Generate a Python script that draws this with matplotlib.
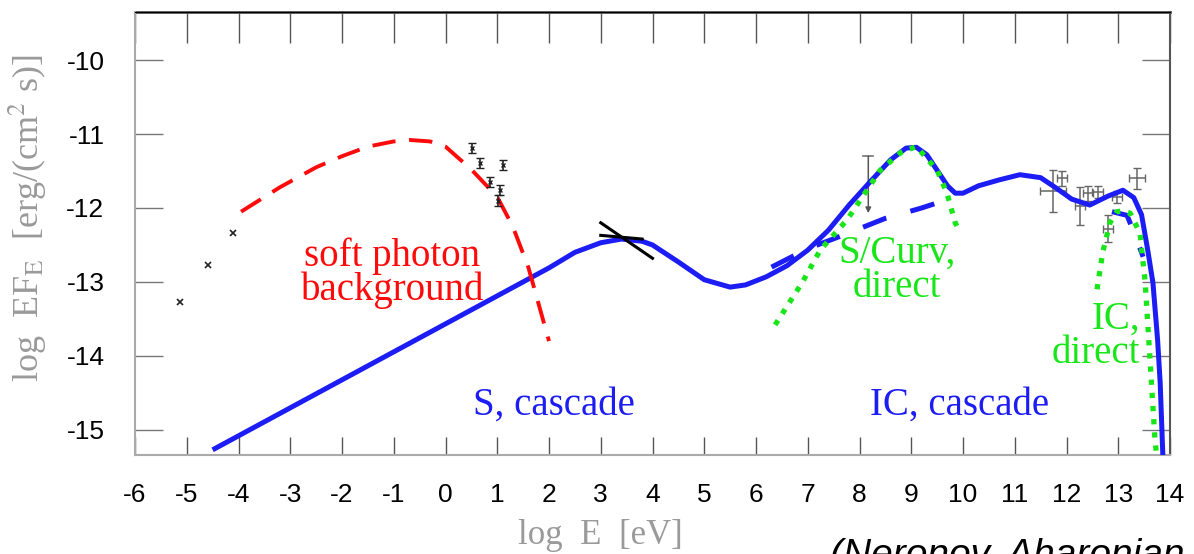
import matplotlib
matplotlib.use("Agg")
import matplotlib.pyplot as plt

plt.rcParams['font.family'] = ['Liberation Sans', 'DejaVu Sans']
plt.rcParams['mathtext.fontset'] = 'stix'
plt.rcParams['axes.unicode_minus'] = False

# --- model curves (log E [eV], log EF_E) ---
cascade_x = [-4.5, 2.0, 2.5, 3.0, 3.4, 3.8, 4.0, 4.5, 5.0, 5.5, 5.8, 6.2, 6.6, 7.0,
             7.4, 7.8, 8.2, 8.6, 8.9, 9.1, 9.3, 9.5, 9.7, 9.85, 10.0, 10.3, 10.7,
             11.1, 11.5, 11.8, 12.1, 12.45, 12.8, 13.09, 13.3, 13.45, 13.57, 13.67,
             13.76, 13.81, 13.87]
cascade_y = [-15.27, -12.81, -12.6, -12.47, -12.42, -12.45, -12.5, -12.73, -12.97,
             -13.07, -13.04, -12.93, -12.78, -12.57, -12.3, -11.96, -11.65, -11.35,
             -11.19, -11.18, -11.28, -11.49, -11.7, -11.8, -11.8, -11.7, -11.62,
             -11.55, -11.59, -11.73, -11.88, -11.96, -11.84, -11.76, -11.86, -12.09,
             -12.57, -13.01, -13.78, -14.36, -15.5]

soft_x = [-3.95, -3.2, -2.5, -2.0, -1.5, -1.0, -0.7, -0.3, 0.0, 0.5, 1.0, 1.3, 1.6, 2.0]
soft_y = [-12.05, -11.72, -11.45, -11.3, -11.17, -11.1, -11.08, -11.1, -11.17,
          -11.48, -11.85, -12.25, -12.8, -13.8]

scurv_x = [6.37, 6.9, 7.24, 7.76, 8.4, 8.8, 9.1, 9.5, 9.69, 9.85, 9.94]
scurv_y = [-13.58, -13.0, -12.57, -12.16, -11.49, -11.25, -11.17, -11.49, -11.8,
           -12.2, -12.32]

scurv_casc_x = [6.3, 7.0, 7.6, 8.5, 9.2, 9.9]
scurv_casc_y = [-12.8, -12.55, -12.39, -12.14, -12.0, -11.84]

icdir_x = [12.59, 12.7, 12.84, 12.97, 13.1, 13.23, 13.42, 13.52, 13.6, 13.71, 13.75]
icdir_y = [-13.1, -12.6, -12.2, -12.05, -12.04, -12.07, -12.34, -13.0, -13.9,
           -15.14, -15.4]

iccasc_x = [12.88, 13.17, 13.36, 13.48]
iccasc_y = [-12.05, -12.1, -12.43, -12.66]

# --- observations ---
radio_x = [-5.13, -4.59, -4.11]
radio_y = [-13.27, -12.77, -12.34]

opt_x = [0.51, 0.67, 0.86, 1.05, 1.02, 1.11]
opt_y = [-11.19, -11.39, -11.65, -11.76, -11.9, -11.42]
opt_err = [0.07, 0.07, 0.07, 0.07, 0.07, 0.07]

ul_x = [8.17]
ul_top = [-11.3]
ul_bottom = [-12.07]

tev_x = [11.74, 11.91, 12.26, 12.42, 12.6, 12.98, 12.8, 13.36]
tev_y = [-11.77, -11.6, -11.97, -11.8, -11.78, -11.85, -12.28, -11.6]
tev_yerr = [0.28, 0.1, 0.26, 0.1, 0.08, 0.08, 0.18, 0.14]
tev_xerr = [0.25, 0.1, 0.1, 0.1, 0.1, 0.1, 0.1, 0.15]

bowtie_x = [[3.0, 4.0], [3.0, 3.8]]
bowtie_y = [[-12.2, -12.68], [-12.37, -12.42]]

BLUE = '#1c1cf5'
RED = '#ff0a0a'
GREEN = '#18e618'
GRAY = '#9a9a9a'

fig = plt.figure(figsize=(11.94, 5.54), dpi=100)
ax = fig.add_axes([135 / 1194, 1 - 455 / 554, 1035 / 1194, 443 / 554])

ax.plot(cascade_x, cascade_y, color=BLUE, lw=3.6, zorder=3, solid_capstyle='butt')
ax.plot(soft_x, soft_y, color=RED, lw=2.8, dashes=(6, 3.5), zorder=3)
ax.plot(scurv_casc_x, scurv_casc_y, color=BLUE, lw=3.6, dashes=(5, 5), zorder=3)
ax.plot(iccasc_x, iccasc_y, color=BLUE, lw=3.6, dashes=(5, 5), zorder=3)
ax.plot(scurv_x, scurv_y, color=GREEN, lw=3.8, dashes=(1, 1.5), zorder=4)
ax.plot(icdir_x, icdir_y, color=GREEN, lw=3.8, dashes=(1, 1.5), zorder=4)

for bx, by in zip(bowtie_x, bowtie_y):
    ax.plot(bx, by, color='black', lw=2.2, zorder=5)

ax.plot(radio_x, radio_y, 'x', color='#222', ms=4, mew=1.2, zorder=5)
ax.errorbar(opt_x, opt_y, yerr=opt_err, fmt='x', color='#222', ms=3, mew=1,
            elinewidth=1.2, capsize=3, zorder=5)
ax.errorbar(tev_x, tev_y, yerr=tev_yerr, xerr=tev_xerr, fmt='none', ecolor='#666',
            elinewidth=1.1, capsize=3, zorder=2)
for x, top, bot in zip(ul_x, ul_top, ul_bottom):
    ax.plot([x - 0.1, x + 0.1], [top, top], color='#666', lw=1.1, zorder=2)
    ax.annotate('', xy=(x, bot), xytext=(x, top), zorder=2,
                arrowprops=dict(arrowstyle='-|>', color='#555', lw=1.1,
                                mutation_scale=8, shrinkA=0, shrinkB=0))

serif = ['Liberation Serif', 'DejaVu Serif']
ax.text(-1.03, -12.88, 'soft photon\nbackground', color=RED, fontsize=28,
        family=serif, ha='center', va='center', linespacing=0.9)
ax.text(2.1, -14.66, 'S, cascade', color=BLUE, fontsize=28, family=serif,
        ha='center', va='center')
ax.text(9.94, -14.66, 'IC, cascade', color=BLUE, fontsize=28, family=serif,
        ha='center', va='center')
ax.text(8.72, -12.84, 'S/Curv,\ndirect', color=GREEN, fontsize=28, family=serif,
        ha='center', va='center', linespacing=0.9)
ax.text(13.42, -13.73, 'IC,\ndirect', color=GREEN, fontsize=28, family=serif,
        ha='right', va='center', linespacing=0.9)

ax.set_xlim(-6, 14)
ax.set_ylim(-15.34, -9.35)
ax.set_xticks(range(-6, 15))
ax.set_yticks(range(-15, -9))
ax.tick_params(axis='y', direction='in', length=20, width=1, color='#777',
               right=True, labelsize=19, pad=22)
ax.tick_params(axis='x', direction='in', length=13, width=1, color='#555',
               labelsize=19, pad=20)
top = ax.secondary_xaxis('top')
top.set_xticks(range(-6, 15))
top.tick_params(direction='in', length=22, width=1, color='#555', labeltop=False)
top.spines['top'].set_color('#555')
top.spines['top'].set_linewidth(2)
for side in ['left', 'bottom', 'right']:
    ax.spines[side].set_color('#aaa')
    ax.spines[side].set_linewidth(1.5)
ax.spines['right'].set_color('#555')

ax.set_ylabel(r'log  EF$_\mathrm{E}$  [erg/(cm$^2$ s)]', family=serif, fontsize=26,
              color=GRAY)
ax.yaxis.set_label_coords(-86 / 1035, 0.535)
ax.set_xlabel('log  E  [eV]', family=serif, fontsize=25, color=GRAY)
ax.xaxis.set_label_coords((600 - 135) / 1035, -0.145)

fig.text(830 / 1194, 1 - 566 / 554, '(Neronov, Aharonian', fontsize=28,
         style='italic', va='baseline', ha='left', color='black')

fig.savefig('out.png', dpi=100)
